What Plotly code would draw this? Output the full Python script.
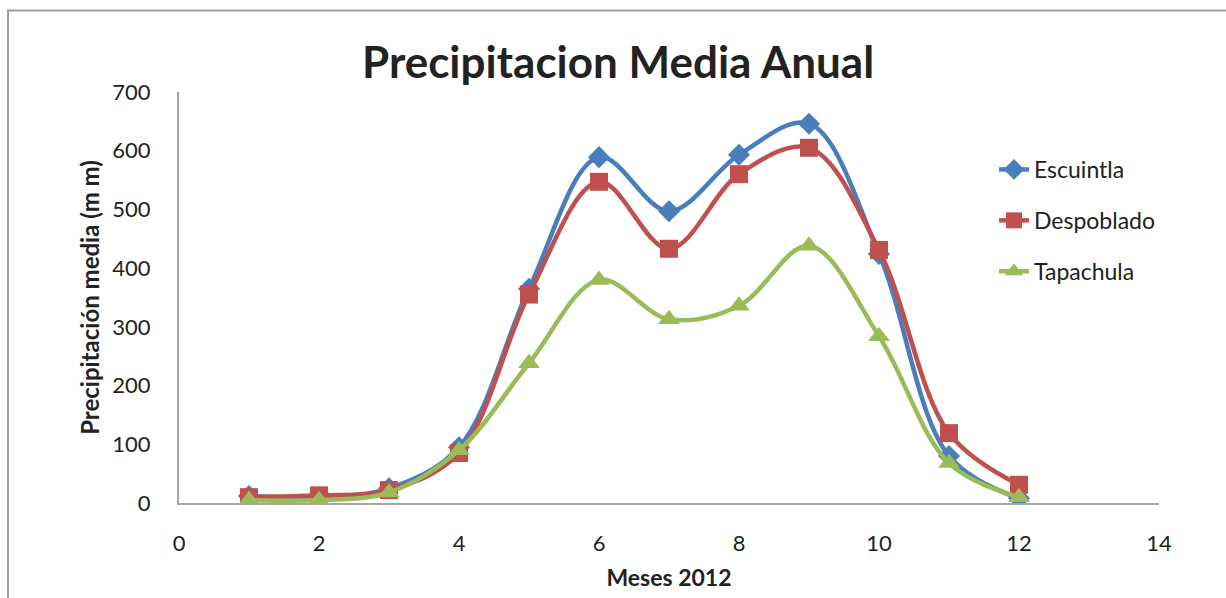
import plotly.graph_objects as go

# Monthly mean precipitation (mm), 2012
meses = [1, 2, 3, 4, 5, 6, 7, 8, 9, 10, 11, 12]
escuintla = [12, 10, 25, 95, 365, 589, 497, 593, 646, 424, 80, 8]
despoblado = [10, 13, 22, 85, 355, 547, 433, 560, 605, 431, 119, 31]
tapachula = [5, 5, 18, 90, 238, 380, 313, 336, 438, 284, 68, 10]

x_ticks = [0, 2, 4, 6, 8, 10, 12, 14]
y_ticks = [0, 100, 200, 300, 400, 500, 600, 700]

FONT = "Lato"
W, H = 1226, 598
L, R, T, B = 179, 67, 92, 95
PW, PH = W - L - R, H - T - B


def px_x(px):
    return (px - L) / PW


def px_y(py):
    return (H - B - py) / PH


series = [
    ("Escuintla", escuintla, "#4A7EBB", "diamond", 17),
    ("Despoblado", despoblado, "#C0504D", "square", 18),
    ("Tapachula", tapachula, "#9BBB59", "triangle-up", 19),
]

fig = go.Figure()
for name, vals, color, symbol, msize in series:
    fig.add_trace(go.Scatter(
        x=meses, y=vals, name=name, mode="lines+markers",
        line=dict(color=color, width=4.5, shape="spline", smoothing=1.0),
        marker=dict(symbol=symbol, size=msize, color=color),
        legendgroup=name,
    ))

axis_line = "#A6A6A6"
fig.update_layout(
    width=W, height=H,
    margin=dict(l=L, r=R, t=T, b=B, autoexpand=False),
    paper_bgcolor="white", plot_bgcolor="white",
    font=dict(family=FONT, size=22, color="#222222"),
    showlegend=True,
    legend=dict(
        x=px_x(994), y=px_y(148), xanchor="left", yanchor="top",
        font=dict(family=FONT, size=23, color="#222222"),
        tracegroupgap=18, bgcolor="rgba(0,0,0,0)",
    ),
    xaxis=dict(
        range=[0, 14], tickvals=x_ticks, ticktext=[str(v) for v in x_ticks],
        showgrid=False, zeroline=False, showline=True,
        linecolor=axis_line, linewidth=2, ticks="",
        ticklabelstandoff=20,
        title=dict(text="<b>Meses 2012</b>", font=dict(family=FONT, size=23),
                   standoff=14),
    ),
    yaxis=dict(
        range=[0, 700], tickvals=y_ticks, ticktext=[str(v) for v in y_ticks],
        showgrid=False, zeroline=False, showline=True,
        linecolor=axis_line, linewidth=2, ticks="",
        ticklabelstandoff=22,
        title=dict(text="<b>Precipitación media (m m)</b>",
                   font=dict(family=FONT, size=24), standoff=6),
    ),
    shapes=[dict(
        type="rect", xref="paper", yref="paper",
        x0=px_x(8), x1=px_x(1240), y0=px_y(612), y1=px_y(10.5),
        line=dict(color="#A0A0A0", width=2), fillcolor="rgba(0,0,0,0)",
        layer="below",
    )],
    annotations=[dict(
        text="<b>Precipitacion Media Anual</b>", xref="paper", yref="paper",
        x=px_x(617.5), y=px_y(61), xanchor="center", yanchor="middle",
        showarrow=False, font=dict(family=FONT, size=44, color="#222222"),
    )],
)

fig.write_html("out.html")
